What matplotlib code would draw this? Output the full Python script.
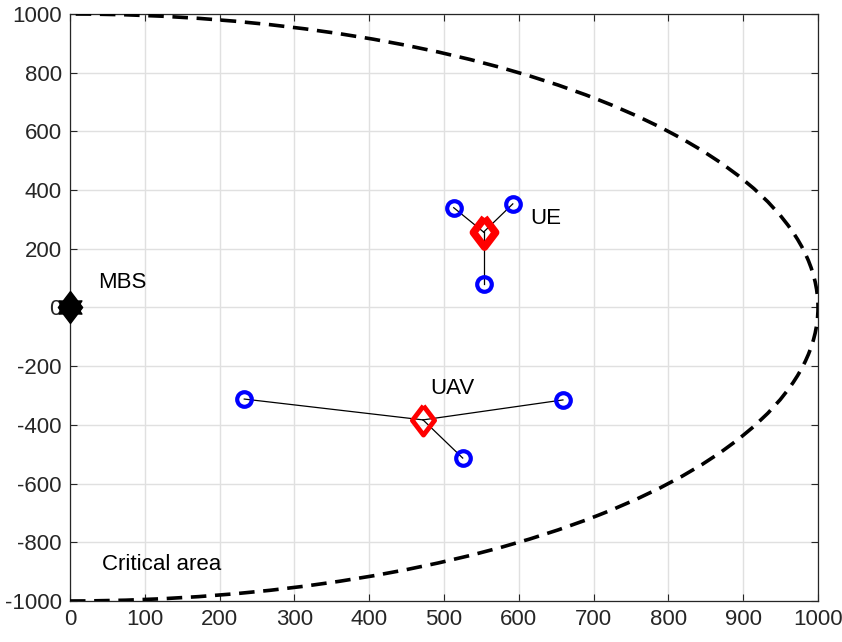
import numpy as np
import matplotlib
matplotlib.use('Agg')
import matplotlib.pyplot as plt
from matplotlib import patches as mpl_patches

plt.rcParams['font.family'] = ['Liberation Sans', 'DejaVu Sans']
plt.rcParams['axes.unicode_minus'] = False

# area and base station
area_radius = 1000
mbs_xy = (0, 0)

# clusters: uav position and the ues it serves
ue_uav_xy = (553, 257)
ue_users_x = [513, 592, 553]
ue_users_y = [340, 353, 80]

uav_xy = (472, -383)
uav_users_x = [233, 659, 525]
uav_users_y = [-312, -315, -513]

labels = ['MBS', 'UE', 'UAV', 'Critical area']
label_x = [37, 615, 481, 43]
label_y = [85, 302, -276, -877]

xticks = list(range(0, 1001, 100))
yticks = list(range(-1000, 1001, 200))

# matlab style markers
diamond = [(0, 0.5), (0.38, 0), (0, -0.5), (-0.38, 0), (0, 0.5)]
ang = np.deg2rad(np.arange(12) * 30 + 90)
rad = np.tile([1.0, 0.55], 6)
hexagram = list(zip(rad * np.cos(ang), rad * np.sin(ang)))

fig = plt.figure(figsize=(8.42, 6.42), dpi=100)
ax = fig.add_axes([0.0831, 0.0639, 0.8884, 0.9143])

# boundary of the critical area
arc = mpl_patches.Arc((0, 0), 2 * area_radius, 2 * area_radius, theta1=-90, theta2=90,
                      color='black', lw=2.6, linestyle=(0, (4.3, 2.4)), zorder=3)
ax.add_patch(arc)

# links and markers
for (cx, cy), ux, uy in [(ue_uav_xy, ue_users_x, ue_users_y),
                         (uav_xy, uav_users_x, uav_users_y)]:
    for x, y in zip(ux, uy):
        ax.plot([cx, x], [cy, y], color='black', lw=0.9, zorder=4)
    ax.plot(ux, uy, 'o', mfc='none', mec='blue', ms=10.5, mew=3, zorder=5)

ax.plot(*ue_uav_xy, marker=diamond, mfc='none', mec='red', ms=21, mew=5.5, zorder=6)
ax.plot(*uav_xy, marker=diamond, mfc='none', mec='red', ms=21, mew=3.5, zorder=6)

ax.plot(*mbs_xy, marker=diamond, color='black', ms=23, mew=1, clip_on=False, zorder=7)
ax.plot(*mbs_xy, marker=hexagram, color='black', ms=19, clip_on=False, zorder=7)

for t, x, y in zip(labels, label_x, label_y):
    ax.text(x, y, t, fontsize=16, va='center', ha='left', zorder=8)

ax.set_xlim(0, 1000)
ax.set_ylim(-1000, 1000)
ax.set_xticks(xticks)
ax.set_yticks(yticks)
ax.tick_params(direction='in', length=5, labelsize=16, color='#262626',
               labelcolor='#262626', top=True, right=True, pad=6)
ax.grid(True, color='#e0e0e0', lw=1)
ax.set_axisbelow(True)
for s in ax.spines.values():
    s.set_color('#262626')
    s.set_linewidth(0.9)

fig.savefig('out.png', dpi=100)
